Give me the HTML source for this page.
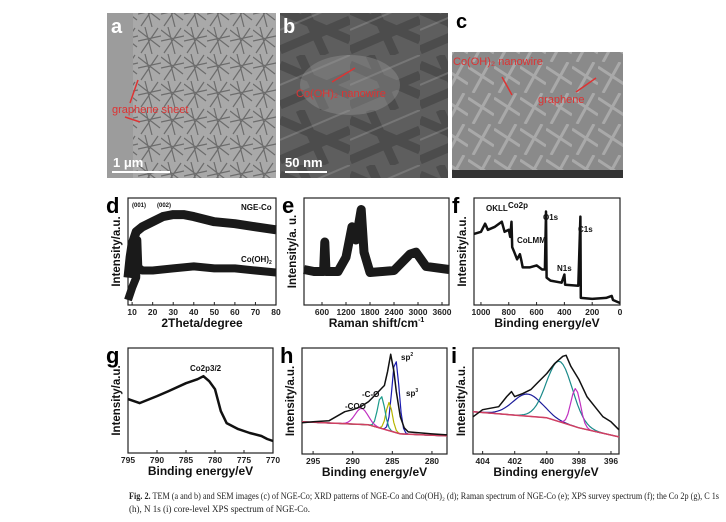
<!DOCTYPE html>
<html><head><meta charset="utf-8"><style>
html,body{margin:0;padding:0;background:#fff}
svg{display:block}
.t{font-family:"Liberation Sans",sans-serif;font-weight:bold}
.cap{font-family:"Liberation Serif",serif;font-size:9px;fill:#222}
</style></head><body>
<svg id="fig" width="726" height="522" viewBox="0 0 726 522" xmlns="http://www.w3.org/2000/svg">
<defs>
<pattern id="needles" width="23" height="27" patternUnits="userSpaceOnUse">
<path d="M0 3 L22 20 M7 0 L14 27 M20 1 L3 26 M0 14 L23 9" stroke="#3a3a3a" stroke-width="1.2" fill="none" opacity="0.55"/>
</pattern>
<pattern id="sheets" width="70" height="55" patternUnits="userSpaceOnUse">
<path d="M0 10 L70 40 M0 50 L70 20 M20 0 L45 55" stroke="#2a2a2a" stroke-width="9" fill="none" opacity="0.35"/>
<path d="M0 30 L70 0" stroke="#aaa" stroke-width="2" opacity="0.3"/>
</pattern>
<pattern id="wires" width="26" height="31" patternUnits="userSpaceOnUse">
<path d="M0 5 L26 22 M5 31 L22 0" stroke="#cfcfcf" stroke-width="3" fill="none" opacity="0.45"/>
</pattern>
</defs>

<!-- micrograph a -->
<g>
<rect x="107" y="13" width="169" height="165" fill="#a9a9a9"/>
<rect x="133" y="13" width="143" height="165" fill="url(#needles)"/>
<rect x="107" y="13" width="26" height="165" fill="#9c9c9c"/>
<text class="t" x="111" y="33" font-size="20" fill="#fff">a</text>
<text x="112" y="113" font-family="Liberation Sans,sans-serif" font-size="11" fill="#d33">graphene sheet</text>
<line x1="130" y1="103" x2="138" y2="80" stroke="#d33" stroke-width="1.5"/>
<line x1="125" y1="117" x2="140" y2="122" stroke="#d33" stroke-width="1.5"/>
<text class="t" x="113" y="167" font-size="13" fill="#fff">1 μm</text>
<rect x="112" y="171" width="58" height="2" fill="#fff"/>
</g>
<!-- micrograph b -->
<g>
<rect x="280" y="13" width="168" height="165" fill="#5e5e5e"/>
<rect x="280" y="13" width="168" height="165" fill="url(#sheets)"/>
<ellipse cx="350" cy="85" rx="50" ry="30" fill="#999" opacity="0.4"/>
<text class="t" x="283" y="33" font-size="20" fill="#fff">b</text>
<text x="296" y="97" font-family="Liberation Sans,sans-serif" font-size="11" fill="#d33">Co(OH)₂ nanowire</text>
<line x1="332" y1="82" x2="355" y2="68" stroke="#d33" stroke-width="1.5"/>
<text class="t" x="285" y="167" font-size="13" fill="#fff">50 nm</text>
<rect x="285" y="171" width="42" height="2" fill="#fff"/>
</g>
<!-- micrograph c -->
<g>
<rect x="452" y="52" width="171" height="126" fill="#8a8a8a"/>
<rect x="452" y="52" width="171" height="126" fill="url(#wires)"/>
<rect x="452" y="170" width="171" height="8" fill="#333"/>
<text class="t" x="456" y="28" font-size="20" fill="#000">c</text>
<text x="453" y="65" font-family="Liberation Sans,sans-serif" font-size="11" fill="#d33">Co(OH)₂ nanowire</text>
<line x1="502" y1="77" x2="512" y2="95" stroke="#d33" stroke-width="1.5"/>
<text x="538" y="103" font-family="Liberation Sans,sans-serif" font-size="11" fill="#d33">graphene</text>
<line x1="576" y1="92" x2="596" y2="78" stroke="#d33" stroke-width="1.5"/>
</g>

<g id="plots"></g>

<text class="cap" x="129" y="499" textLength="590" lengthAdjust="spacingAndGlyphs"><tspan font-weight="bold">Fig. 2.</tspan>  TEM (a and b) and SEM images (c) of NGE-Co; XRD patterns of NGE-Co and Co(OH)₂ (d); Raman spectrum of NGE-Co (e); XPS survey spectrum (f); the Co 2p (g), C 1s</text>
<text class="cap" x="129" y="512">(h), N 1s (i) core-level XPS spectrum of NGE-Co.</text>
</svg>
<script>
// ---- data ----
const dX = [8,9,10,12,15,20,25,30,35,40,50,60,70,80];
const dNGE = [25,45,58,70,75,80,85,87,87,85,80,78,75,72];
const dCoX = [8,10,12,12.5,13,15,20,30,40,50,60,70,80];
const dCo = [3,15,25,62,35,32,32,34,36,34,34,32,30];
const eX = [150,400,640,670,700,1000,1200,1350,1450,1580,1650,1800,2400,2800,2950,3200,3775];
const eY = [33,31,31,60,31,31,45,75,62,92,50,30,32,48,50,36,33];
const fX = [1050,1000,970,950,900,850,830,800,790,780,775,760,740,720,710,700,650,600,560,540,532,528,500,420,400,395,300,285,282,200,100,60,50,0];
const fY = [68,70,78,72,75,80,70,72,65,80,55,50,43,48,42,35,35,37,33,33,90,25,22,20,28,18,17,85,5,4,5,7,3,0];
const gX = [795,793,790,788,785,783,782,781,780,779,778,776,774,772,771,770];
const gY = [52,48,55,60,68,72,75,70,62,40,28,22,18,15,12,10];
const hX = [296.4,295,293,291,290,289,288,287,286.5,286,285.6,285.2,284.8,284.5,284,283.5,283,280,278.1];
const hY = [29,30,31,40,42,45,50,58,62,66,80,97,80,60,35,24,20,18,17];
const hBgX = [296.4,288,284,278.1];
const hBgY = [30,27,18,16];
const hPeakCenters = [284.6,285.4,286.4,288.9];
const hPeakHeights = [72,28,32,16];
const hPeakWidths = [0.45,0.4,0.45,0.8];
const hPeakColors = ["#1b1bb0","#b5b500","#1a9a8a","#c030c0"];
const iX = [404.6,404,403,402.5,402.2,402,401.5,401,400.5,400,399.5,399,398.8,398.5,398,397.5,397,396.5,396,395.5];
const iY = [35,42,45,55,60,55,58,62,70,78,88,95,96,85,72,55,45,35,30,22];
const iBgX = [404.6,400,398,395.5];
const iBgY = [40,34,24,15];
const iPeakCenters = [401.2,399.2,398.2];
const iPeakHeights = [22,60,38];
const iPeakWidths = [0.9,0.8,0.3];
const iPeakColors = ["#1b1b9a","#1a8a8a","#c030c0"];
const dTicks = [10,20,30,40,50,60,70,80];
const eTicks = [600,1200,1800,2400,3000,3600];
const fTicks = [1000,800,600,400,200,0];
const gTicks = [795,790,785,780,775,770];
const hTicks = [295,290,285,280];
const iTicks = [404,402,400,398,396];

const NS="http://www.w3.org/2000/svg";
const root=document.getElementById('plots');
function mk(tag,attrs,parent){const e=document.createElementNS(NS,tag);for(const k in attrs)e.setAttribute(k,attrs[k]);parent.appendChild(e);return e;}
function panel(name,letter,x0,y0,x1,y1,dom,ticks,xlabel,ylabel){
  const g=mk('g',{},root);
  
  
  const sx=v=>x0+(v-dom[0])/(dom[1]-dom[0])*(x1-x0);
  const sy=v=>y1-(v/100)*(y1-y0)*0.95-2;
  const fr=mk('rect',{x:x0,y:y0,width:x1-x0,height:y1-y0,fill:'none',stroke:'#222','stroke-width':1.2},g);
  
  
  ticks.forEach(t=>{
    const tx=sx(t);
    mk('line',{x1:tx,y1:y1,x2:tx,y2:y1-3,stroke:'#222'},g);
    const tl=mk('text',{x:tx,y:y1+10,'text-anchor':'middle','font-size':8.5,class:'t',fill:'#222'},g);
    tl.textContent=t;
    
    
  });
  const xl=mk('text',{x:(x0+x1)/2,y:y1+22,'text-anchor':'middle','font-size':12,class:'t',fill:'#111'},g);
  xl.innerHTML=xlabel;
  
  
  const yl=mk('text',{x:0,y:0,'text-anchor':'middle','font-size':11.5,class:'t',fill:'#111',transform:`translate(${x0-8},${(y0+y1)/2}) rotate(-90)`},g);
  yl.textContent=ylabel;
  
  
  const pl=mk('text',{x:x0-22,y:y0+15,'font-size':22,class:'t',fill:'#000'},g);
  pl.textContent=letter;
  
  
  return {g,sx,sy};
}
function line(p,xs,ys,color,w,name){
  const pts=xs.map((x,i)=>p.sx(x).toFixed(1)+','+p.sy(ys[i]).toFixed(1)).join(' ');
  const l=mk('polyline',{points:pts,fill:'none',stroke:color,'stroke-width':w,'stroke-linejoin':'round'},p.g);
  
  
}
function label(p,x,y,txt,size,name){
  const t=mk('text',{x:x,y:y,'font-size':size,class:'t',fill:'#111'},p.g);
  t.innerHTML=txt;
  
  
}
function peaks(p,dom,bgX,bgY,cs,hs,ws,cols){
  const n=60;
  cs.forEach((c,k)=>{
    const xs=[],ys=[];
    for(let i=0;i<=n;i++){
      const x=dom[0]+(dom[1]-dom[0])*i/n;
      let bg=bgY[0];
      for(let j=0;j<bgX.length-1;j++){const a=bgX[j],b=bgX[j+1];if((x-a)*(x-b)<=0){bg=bgY[j]+(bgY[j+1]-bgY[j])*(x-a)/(b-a);}}
      xs.push(x);ys.push(bg+hs[k]*Math.exp(-Math.pow((x-c)/ws[k],2)/2));
    }
    line(p,xs,ys,cols[k],1.2,'fit-component-'+k);
  });
  line(p,bgX,bgY,'#d04060',1.5,'background-line');
}
// d
let p=panel('xrd-panel-d','d',128,198,276,305,[8,80],dTicks,'2Theta/degree','Intensity/a.u.');
line(p,dX,dNGE,'#1a1a1a',9,'series-nge-co');
line(p,dCoX,dCo,'#1a1a1a',8,'series-co-oh2');
label(p,132,207,'(001)',6,'peak-001-label');
label(p,157,207,'(002)',6,'peak-002-label');
label(p,241,210,'NGE-Co',8,'legend-nge-co');
label(p,241,262,'Co(OH)<tspan font-size="5" dy="2">2</tspan>',8,'legend-co-oh2');
// e
p=panel('raman-panel-e','e',304,198,449,305,[150,3775],eTicks,'Raman shift/cm<tspan font-size="7" dy="-5">-1</tspan>','Intensity/a. u.');
line(p,eX,eY,'#1a1a1a',9,'series-raman');
// f
p=panel('xps-survey-panel-f','f',474,198,620,305,[1050,0],fTicks,'Binding energy/eV','Intensity/a.u.');
line(p,fX,fY,'#111',2.5,'series-survey');
label(p,486,211,'OKLL',8,'okll-label');
label(p,508,208,'Co2p',8,'co2p-label');
label(p,517,243,'CoLMM',8,'colmm-label');
label(p,543,220,'O1s',8,'o1s-label');
label(p,578,232,'C1s',8,'c1s-label');
label(p,557,271,'N1s',8,'n1s-label');
// g
p=panel('co2p-panel-g','g',128,348,273,453,[795,770],gTicks,'Binding energy/eV','Intensity/a.u.');
line(p,gX,gY,'#111',2.5,'series-co2p');
label(p,190,371,'Co2p3/2',8,'co2p32-label');
// h
p=panel('c1s-panel-h','h',302,348,447,454,[296.4,278.1],hTicks,'Binding energy/eV','Intensity/a.u.');
peaks(p,[296.4,278.1],hBgX,hBgY,hPeakCenters,hPeakHeights,hPeakWidths,hPeakColors);
line(p,hX,hY,'#111',1.5,'series-c1s');
label(p,401,360,'sp<tspan font-size="5" dy="-4">2</tspan>',8,'sp2-label');
label(p,406,396,'sp<tspan font-size="5" dy="-4">3</tspan>',8,'sp3-label');
label(p,362,397,'-C-O',8,'c-o-label');
label(p,345,409,'-COO',8,'coo-label');
// i
p=panel('n1s-panel-i','i',473,348,619,454,[404.6,395.5],iTicks,'Binding energy/eV','Intensity/a.u.');
peaks(p,[404.6,395.5],iBgX,iBgY,iPeakCenters,iPeakHeights,iPeakWidths,iPeakColors);
line(p,iX,iY,'#111',1.5,'series-n1s');
</script>
</body></html>
